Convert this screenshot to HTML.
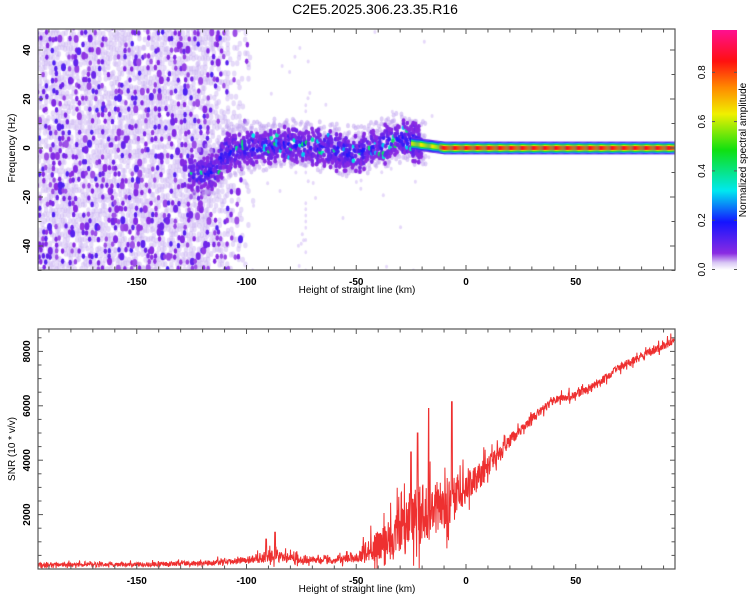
<!DOCTYPE html>
<html><head><meta charset="utf-8">
<style>
html,body{margin:0;padding:0;background:#fff;}
#wrap{position:relative;width:750px;height:600px;overflow:hidden;font-family:"Liberation Sans",sans-serif;}
canvas{position:absolute;left:0;top:0;}
svg{position:absolute;left:0;top:0;}
text{font-family:"Liberation Sans",sans-serif;}
</style></head>
<body>
<div id="wrap">
<canvas id="hm" width="750" height="600"></canvas>
<svg id="sv" width="750" height="600">
<defs>
<linearGradient id="cb" x1="0" y1="1" x2="0" y2="0">
<stop offset="0" stop-color="#ffffff"/>
<stop offset="0.03" stop-color="#d9c8f5"/>
<stop offset="0.07" stop-color="#8a2be2"/>
<stop offset="0.2" stop-color="#1414ff"/>
<stop offset="0.33" stop-color="#00e8f0"/>
<stop offset="0.5" stop-color="#10e010"/>
<stop offset="0.65" stop-color="#f0f000"/>
<stop offset="0.76" stop-color="#ff8a00"/>
<stop offset="0.87" stop-color="#ff1010"/>
<stop offset="1" stop-color="#ff1090"/>
</linearGradient>
</defs>
</svg>
</div>
<script>
// ---- data ----
const xTicks=[-150,-100,-50,0,50];
const fTicks=[-40,-20,0,20,40];
const snrTicks=[2000,4000,6000,8000];
const cbTicks=[0.0,0.2,0.4,0.6,0.8];
// ridge centre frequency vs height
const ridgeH=[-125,-115,-110,-100,-90,-80,-70,-60,-50,-40,-30,-20,-10,0];
const ridgeF=[-10,-10,-2,0,1,2,1,-1,-2,1,4,2,0,0];
// SNR envelope vs height
const snrH=[-195,-150,-120,-100,-90,-80,-70,-60,-50,-40,-30,-20,-10,0,10,20,30,40,50,60,70,80,90,95];
const snrV=[150,160,200,300,450,380,330,280,450,800,1300,1900,2300,2900,3700,4700,5500,6200,6400,6800,7400,7800,8200,8400];
const snrAmpV=[150,150,180,250,450,350,250,220,400,1100,1700,2300,1900,1200,800,450,350,300,300,300,300,300,300,300];
const spikeH=[-17,-6.4,-22,-25,-87,-91];
const spikeV=[5900,6150,5000,4300,1350,1100];

// ---- axes ----
const X=h=>466+h*2.195;
const Yt=f=>148-f*2.45;
const Ys=v=>569-v*0.0272;
const T={x0:38,x1:675,y0:29,y1:270};
const B={x0:38,x1:675,y0:329,y1:569};
let s=0x1234567;
function rnd(){s^=s<<13;s>>>=0;s^=s>>17;s^=s<<5;s>>>=0;return s/4294967296;}
function interp(xs,ys,x){if(x<=xs[0])return ys[0];for(let i=1;i<xs.length;i++){if(x<=xs[i]){const t=(x-xs[i-1])/(xs[i]-xs[i-1]);return ys[i-1]+t*(ys[i]-ys[i-1]);}}return ys[ys.length-1];}
const stops=[[0,[255,255,255]],[0.03,[217,200,245]],[0.07,[138,43,226]],[0.2,[20,20,255]],[0.33,[0,232,240]],[0.5,[16,224,16]],[0.65,[240,240,0]],[0.76,[255,138,0]],[0.87,[255,16,16]],[1,[255,16,144]]];
function cmap(v){v=Math.max(0,Math.min(1,v));for(let i=1;i<stops.length;i++){if(v<=stops[i][0]){const a=stops[i-1],b=stops[i];const t=(v-a[0])/(b[0]-a[0]);return 'rgb('+a[1].map((c,k)=>Math.round(c+t*(b[1][k]-c))).join(',')+')';}}return 'rgb(255,16,144)';}

// ---- heatmap ----
const cv=document.getElementById('hm');const ctx=cv.getContext('2d');
ctx.save();ctx.beginPath();ctx.rect(T.x0,T.y0,T.x1-T.x0,T.y1-T.y0);ctx.clip();
function blob(x,y,rx,ry,col){ctx.fillStyle=col;ctx.beginPath();ctx.ellipse(x,y,rx,ry,0,0,Math.PI*2);ctx.fill();}
// noise region: light background
for(let h=-196;h<-94;h+=1.3){
  const p=h<-120?1:Math.max(0,1-(h+120)/24);
  for(let f=-51;f<50;f+=2){
    if(rnd()>p*0.75)continue;
    blob(X(h)+rnd()*2,Yt(f)+rnd()*2,2.2,3,'rgba(200,175,242,0.45)');
  }
}
// noise region: purple speckles
for(let h=-196;h<-94;h+=1.5){
  const p=h<-120?1:Math.max(0,1-(h+120)/22);
  for(let f=-51;f<50;f+=2.4){
    if(rnd()>p*0.3)continue;
    const v=0.06+Math.pow(rnd(),2)*0.08;
    const r=rnd()<0.2?1.4:1;
    blob(X(h)+rnd()*2,Yt(f)+rnd()*2,1.8*r,2.8*r,cmap(v));
  }
}
// sparse dots mid region
for(let i=0;i<120;i++){const h=-100+rnd()*85;const f=-50+rnd()*100;const w=Math.abs(f)<15?1:0.35;if(rnd()>w)continue;blob(X(h),Yt(f),1.5,2,'rgba(205,180,245,0.5)');}
for(let f=-50;f<20;f+=2.5){if(rnd()<0.5)blob(X(-73),Yt(f),1.3,2,'rgba(205,180,245,0.5)');}
// ridge halo
for(let h=-126;h<-18;h+=1){
  const c=interp(ridgeH,ridgeF,h);
  for(let df=-10;df<=10;df+=1.6){
    if(rnd()>0.5)continue;
    blob(X(h)+rnd()*2,Yt(c+df+rnd()*2),2,2.6,'rgba(190,160,240,0.5)');
  }
}
// ridge
for(let h=-126;h<-20;h+=0.9){
  const c=interp(ridgeH,ridgeF,h);
  const hw=4+rnd()*4;
  for(let df=-hw;df<=hw;df+=1.4){
    if(rnd()>0.75)continue;
    const core=1-Math.abs(df)/hw;
    let v=0.07+core*0.14*rnd();
    if(rnd()<0.1*core)v=0.28+rnd()*0.18;
    if(h>-45&&rnd()<0.12*core)v=0.3+rnd()*0.15;
    blob(X(h)+rnd(),Yt(c+df+rnd()-0.5),1.9,2.4,cmap(v));
  }
}
// line
for(let h=-25;h<95.5;h+=0.5){
  const c=h<0?interp(ridgeH,ridgeF,h)*0.6:0;
  [[2.6,0.13],[2.1,0.3],[1.6,0.5],[1.2,0.65],[0.8,0.88]].forEach(([hw,v])=>{
    ctx.fillStyle=cmap(v*(h<-12?0.75:1));
    ctx.fillRect(X(h),Yt(c+hw),1.3,hw*2*2.45);
  });
}
ctx.restore();

// ---- SVG ----
const sv=document.getElementById('sv');const NS='http://www.w3.org/2000/svg';
function el(tag,attrs,parent){const e=document.createElementNS(NS,tag);for(const k in attrs)e.setAttribute(k,attrs[k]);(parent||sv).appendChild(e);return e;}
function txt(x,y,str,opt){const t=el('text',Object.assign({x:x,y:y,'font-size':11,'fill':'#000','text-anchor':'middle'},opt||{}));t.textContent=str;return t;}

const title=txt(375,14,'C2E5.2025.306.23.35.R16',{'font-size':14});



// SNR line
let d='';
for(let h=-195;h<=95;h+=0.15){
  let v=interp(snrH,snrV,h)+interp(snrH,snrAmpV,h)*(rnd()-0.45)*(rnd()<0.15?2:1);
  for(let i=0;i<spikeH.length;i++){if(Math.abs(h-spikeH[i])<0.2)v=spikeV[i];}
  v=Math.max(20,v);
  d+=(d?'L':'M')+X(h).toFixed(1)+','+Ys(v).toFixed(1);
}
const g=el('g',{});


const cp=el('clipPath',{id:'bc'},g);el('rect',{x:B.x0,y:B.y0,width:B.x1-B.x0,height:B.y1-B.y0},cp);
const line=el('path',{d:d,fill:'none',stroke:'#ee3030','stroke-width':1,'clip-path':'url(#bc)'},g);



function frame(P,name){
  const r=el('rect',{x:P.x0,y:P.y0,width:P.x1-P.x0,height:P.y1-P.y0,fill:'none',stroke:'#555','stroke-width':1.2});
  
  
}
frame(T,'top-plot-frame');frame(B,'bottom-plot-frame');

function xaxis(P,name){
  for(let h=-190;h<=90;h+=10){const x=X(h);const L=(h%50===0)?5:3.5;
    el('line',{x1:x,y1:P.y1,x2:x,y2:P.y1-L,stroke:'#555'});el('line',{x1:x,y1:P.y0,x2:x,y2:P.y0+L,stroke:'#555'});}
  xTicks.forEach(h=>{const t=txt(X(h),P.y1+15,String(h),{'font-weight':'bold','font-size':10});
    
    });
  const t=txt(357,P.y1+23,'Height of straight line (km)',{'font-size':10});
  
  
}
xaxis(T,'top-x-axis-title');xaxis(B,'bottom-x-axis-title');

for(let f=-50;f<=48;f+=10){const y=Yt(f);const L=(f%20===0)?5:3.5;
  el('line',{x1:T.x0,y1:y,x2:T.x0+L,y2:y,stroke:'#555'});el('line',{x1:T.x1,y1:y,x2:T.x1-L,y2:y,stroke:'#555'});}
fTicks.forEach(f=>{const y=Yt(f);const t=txt(30,y,String(f),{'font-weight':'bold','font-size':10,transform:'rotate(-90 30 '+y+')'});
  
  });
const yt=txt(15,148,'Frequency (Hz)',{'font-size':10,transform:'rotate(-90 15 148)'});



for(let v=500;v<=8800;v+=500){const y=Ys(v);const L=(v%2000===0)?5:3.5;
  el('line',{x1:B.x0,y1:y,x2:B.x0+L,y2:y,stroke:'#555'});el('line',{x1:B.x1,y1:y,x2:B.x1-L,y2:y,stroke:'#555'});}
snrTicks.forEach(v=>{const y=Ys(v);const t=txt(30,y,String(v),{'font-weight':'bold','font-size':10,transform:'rotate(-90 30 '+y+')'});
  
  });
const st=txt(15,449,'SNR (10 * v/v)',{'font-size':10,transform:'rotate(-90 15 449)'});



// colorbar
const cbr=el('rect',{x:712,y:30,width:25,height:240,fill:'url(#cb)'});


const CY=v=>269.5-v*246.5;
cbTicks.forEach(v=>{const y=CY(v);
  el('line',{x1:712,y1:y,x2:715,y2:y,stroke:'#555'});el('line',{x1:737,y1:y,x2:734,y2:y,stroke:'#555'});
  const t=txt(705,y,v.toFixed(1),{'font-size':10,transform:'rotate(-90 705 '+y+')'});
  
  });
const ct=txt(746,150,'Normalized spectral amplitude',{'font-size':10,transform:'rotate(-90 746 150)'});


</script>
</body></html>
